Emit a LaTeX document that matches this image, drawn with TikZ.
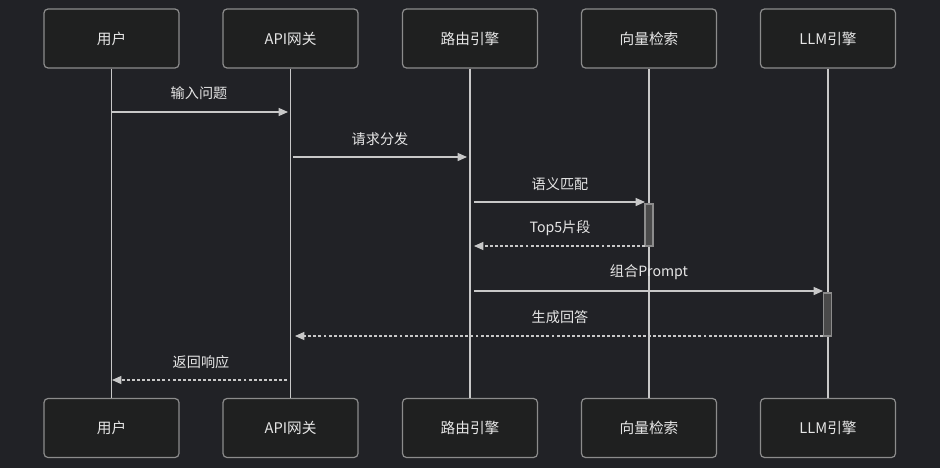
\documentclass[tikz,border=0pt]{standalone}
\usepackage{fontspec}
\setmainfont{Noto Sans CJK SC}
\usetikzlibrary{arrows.meta}
\definecolor{bgc}{RGB}{33,34,38}
\definecolor{boxfill}{RGB}{31,32,32}
\definecolor{boxline}{RGB}{140,140,140}
\definecolor{lifec}{RGB}{200,200,200}
\definecolor{txtc}{RGB}{230,230,230}
\definecolor{actfill}{RGB}{74,74,74}
\tikzset{
  actor/.style={draw=boxline, fill=boxfill, rounded corners=3, line width=0.9pt,
    minimum width=135*0.75pt, minimum height=59*0.75pt, inner sep=0pt,
    text=txtc, font=\fontsize{11}{13}\selectfont},
  lifeline/.style={draw=lifec, line width=1.1pt},
  msg/.style={draw=lifec, line width=1pt, -{Triangle[length=7pt,width=6pt]}},
  reply/.style={msg, dash pattern=on 2.2pt off 1.6pt},
  msglabel/.style={text=txtc, font=\fontsize{10.6}{12}\selectfont, inner sep=0pt},
  actbar/.style={draw=boxline, fill=actfill, line width=0.8pt, minimum width=8*0.75pt, inner sep=0pt},
}
\begin{document}
\begin{tikzpicture}[x=0.75pt, y=-0.75pt]
  \fill[bgc] (0,0) rectangle (940,468);
  \useasboundingbox (0,0) rectangle (940,468);

  % participants, top and bottom
  \foreach \n/\x/\t in {u/111.5/用户, g/290.5/API网关, r/470/路由引擎, v/649/向量检索, l/828/LLM引擎}{
    \node[actor] (\n top) at (\x,38.5) {\t};
    \node[actor] (\n bot) at (\x,428) {\t};
  }

  % lifelines
  \foreach \n in {u,g,r,v,l}
    \draw[lifeline] (\n top.south) -- (\n bot.north);

  % activation bars
  \node[actbar, minimum height=42*0.75pt] (vact) at (649,225) {};
  \node[actbar, minimum height=43*0.75pt] (lact) at (827.5,314.5) {};

  % message end points
  \coordinate (m1a) at (111.5,112);  \coordinate (m1b) at (288,112);
  \coordinate (m2a) at (293,157);    \coordinate (m2b) at (467,157);
  \coordinate (m3a) at (474,202);    \coordinate (m3b) at (645,202);
  \coordinate (m4a) at (645,246);    \coordinate (m4b) at (474,246);
  \coordinate (m5a) at (474,291);    \coordinate (m5b) at (823,291);
  \coordinate (m6a) at (823,336);    \coordinate (m6b) at (295,336);
  \coordinate (m7a) at (287,380);    \coordinate (m7b) at (112,380);

  \draw[msg]   (m1a) -- (m1b);
  \draw[msg]   (m2a) -- (m2b);
  \draw[msg]   (m3a) -- (m3b);
  \draw[reply] (m4a) -- (m4b);
  \draw[msg]   (m5a) -- (m5b);
  \draw[reply] (m6a) -- (m6b);
  \draw[reply] (m7a) -- (m7b);

  % message labels
  \node[msglabel] (t1) at (199,93)  {输入问题};
  \node[msglabel] (t2) at (380,139) {请求分发};
  \node[msglabel] (t3) at (560,184) {语义匹配};
  \node[msglabel] (t4) at (560,228) {Top5片段};
  \node[msglabel] (t5) at (649,272) {组合Prompt};
  \node[msglabel] (t6) at (560,317) {生成回答};
  \node[msglabel] (t7) at (201,362) {返回响应};
\end{tikzpicture}
\end{document}
